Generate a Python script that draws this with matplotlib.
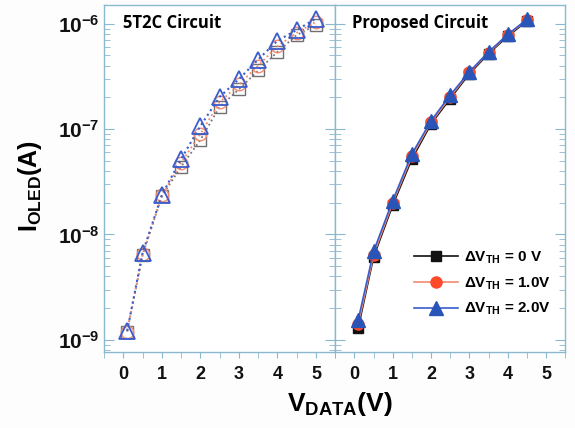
import matplotlib
matplotlib.use("Agg")
import matplotlib.pyplot as plt
from matplotlib.ticker import LogLocator, MultipleLocator, NullFormatter, FixedLocator

# Data
x_5t2c = [0.1, 0.5, 1.0, 1.5, 2.0, 2.5, 3.0, 3.5, 4.0, 4.5, 5.0]
y_5t2c_0 = [1.2e-9, 6.4e-9, 2.3e-8, 4.4e-8, 7.9e-8, 1.63e-7, 2.38e-7, 3.6e-7, 5.4e-7, 7.8e-7, 9.7e-7]
y_5t2c_1 = [1.2e-9, 6.5e-9, 2.35e-8, 4.8e-8, 9.0e-8, 1.8e-7, 2.65e-7, 4.0e-7, 6.1e-7, 8.2e-7, 1.04e-6]
y_5t2c_2 = [1.22e-9, 6.7e-9, 2.37e-8, 5.2e-8, 1.07e-7, 2.02e-7, 2.98e-7, 4.57e-7, 6.9e-7, 8.7e-7, 1.12e-6]

x_prop = [0.1, 0.5, 1.0, 1.5, 2.0, 2.5, 3.0, 3.5, 4.0, 4.5]
y_prop_0 = [1.3e-9, 6.1e-9, 1.9e-8, 5.2e-8, 1.12e-7, 1.95e-7, 3.35e-7, 5.2e-7, 7.6e-7, 1.06e-6]
y_prop_1 = [1.4e-9, 6.4e-9, 2.0e-8, 5.5e-8, 1.16e-7, 2.02e-7, 3.45e-7, 5.3e-7, 7.8e-7, 1.08e-6]
y_prop_2 = [1.55e-9, 6.9e-9, 2.1e-8, 5.8e-8, 1.2e-7, 2.1e-7, 3.5e-7, 5.4e-7, 7.9e-7, 1.1e-6]

labels = [r'$\Delta$V$_{\mathbf{TH}}$ = 0 V', r'$\Delta$V$_{\mathbf{TH}}$ = 1.0V', r'$\Delta$V$_{\mathbf{TH}}$ = 2.0V']
panel_titles = ['5T2C Circuit', 'Proposed Circuit']
xticks = [0, 1, 2, 3, 4, 5]
yticks = [1e-9, 1e-8, 1e-7, 1e-6]

spine_c = '#8ab8cc'
c_black = '#111111'
c_red = '#ff4a2a'
c_red_line = '#f28a70'
c_blue = '#2a55b8'
c_blue_line = '#3a5ccc'

FONT = 'Liberation Sans'
plt.rcParams['font.family'] = [FONT, 'DejaVu Sans']
plt.rcParams['font.weight'] = 'bold'
plt.rcParams['mathtext.fontset'] = 'custom'
plt.rcParams['mathtext.rm'] = FONT + ':bold'
plt.rcParams['mathtext.bf'] = FONT + ':bold'
plt.rcParams['mathtext.it'] = FONT + ':bold'
plt.rcParams['mathtext.sf'] = FONT + ':bold'

fig = plt.figure(figsize=(5.75, 4.28), dpi=100)
fig.patch.set_facecolor('#fdfdfe')
ax1 = fig.add_axes([0.181, 0.178, 0.402, 0.81])
ax2 = fig.add_axes([0.583, 0.178, 0.400, 0.81])

# Left panel: open markers, dotted lines
ax1.plot(x_5t2c, y_5t2c_0, linestyle=':', color='#777777', marker='s', mfc='none',
         mec='#707070', ms=8, lw=1.3)
ax1.plot(x_5t2c, y_5t2c_1, linestyle=':', color=c_red_line, marker='o', mfc='none',
         mec=c_red_line, ms=9, lw=1.3)
ax1.plot(x_5t2c, y_5t2c_2, linestyle=':', color=c_blue_line, marker='^', mfc='none',
         mec=c_blue_line, ms=11, lw=1.5, mew=1.3)

# Right panel: filled markers, solid lines
ax2.plot(x_prop, y_prop_0, '-', color=c_black, marker='s', ms=7, lw=1.2, label=labels[0])
ax2.plot(x_prop, y_prop_1, '-', color=c_red_line, marker='o', mfc=c_red, mec=c_red, ms=8, lw=1.2, label=labels[1])
ax2.plot(x_prop, y_prop_2, '-', color=c_blue_line, marker='^', mfc=c_blue, mec=c_blue, ms=10, lw=1.2, label=labels[2])

for ax, title, tx in zip([ax1, ax2], panel_titles, [0.08, 0.072]):
    ax.set_yscale('log')
    ax.set_ylim(7.7e-10, 1.5e-6)
    ax.set_xlim(-0.5, 5.5)
    ax.set_xticks(xticks)
    ax.xaxis.set_minor_locator(MultipleLocator(0.5))
    ax.yaxis.set_major_locator(FixedLocator(yticks))
    ax.yaxis.set_minor_locator(LogLocator(base=10, subs=range(2, 10), numticks=20))
    ax.yaxis.set_minor_formatter(NullFormatter())
    for s in ax.spines.values():
        s.set_color(spine_c)
        s.set_linewidth(1.0)
    ax.tick_params(axis='both', which='both', colors=spine_c, labelcolor='#111111')
    ax.tick_params(axis='x', which='major', direction='out', length=4, labelsize=13, pad=6)
    ax.tick_params(axis='x', which='minor', direction='out', length=4)
    ax.tick_params(axis='y', which='major', direction='in', length=7, labelsize=15, pad=3)
    ax.tick_params(axis='y', which='minor', direction='in', length=4)
    ax.set_facecolor('white')
    for lab in ax.get_xticklabels() + ax.get_yticklabels():
        lab.set_fontweight('bold')
    ax.text(tx, 0.948, title, transform=ax.transAxes,
            fontsize=12, fontweight='bold', family='Open Sans', va='center', ha='left')

ax1.tick_params(axis='y', which='both', left=True, right=True, direction='in')
ax2.tick_params(axis='y', which='both', left=True, right=True, labelleft=False, direction='in')

leg = ax2.legend(loc='lower right', bbox_to_anchor=(0.995, 0.06), frameon=False,
                 handlelength=2.9, handletextpad=0.35, labelspacing=0.6,
                 prop={'family': FONT, 'weight': 'bold', 'size': 11})

fig.text(0.052, 0.565, r'I$_{\mathbf{OLED}}$(A)', rotation=90, fontsize=18,
         fontweight='bold', ha='center', va='center')
fig.text(0.591, 0.055, r'V$_{\mathbf{DATA}}$(V)', fontsize=19,
         fontweight='bold', ha='center', va='center')

fig.savefig('out.png', dpi=100, facecolor=fig.get_facecolor())
